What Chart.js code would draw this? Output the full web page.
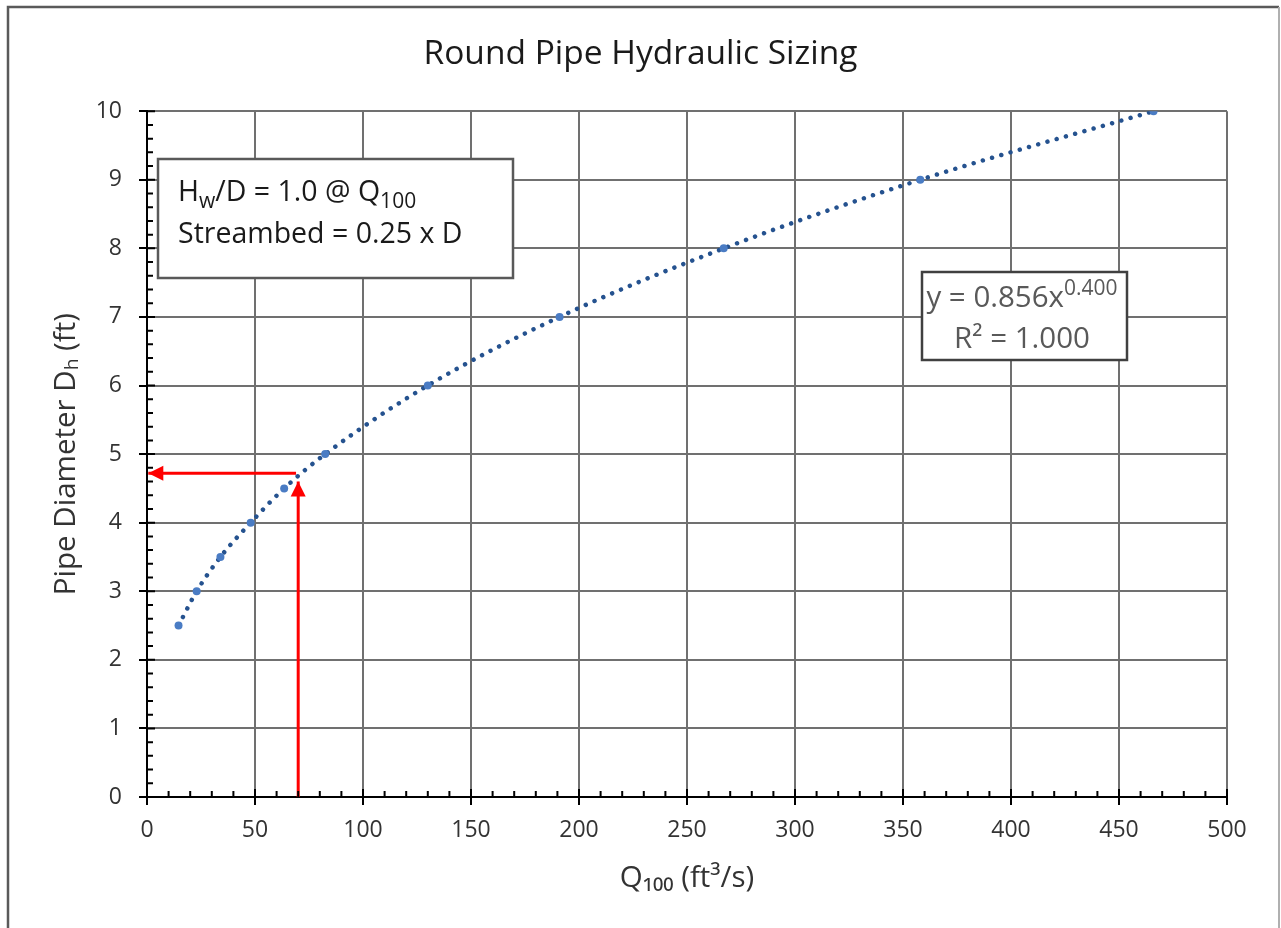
<!DOCTYPE html>
<html>
<head>
<meta charset="utf-8">
<title>Round Pipe Hydraulic Sizing</title>
<script src="https://cdn.jsdelivr.net/npm/chart.js@4.4.1/dist/chart.umd.min.js"></script>
<style>
  html, body { margin: 0; padding: 0; background: #fff; }
  #wrap { width: 1281px; height: 928px; position: relative; }
</style>
</head>
<body>
<div id="wrap"><canvas id="chart"></canvas></div>
<script>
// Q100 (ft3/s) vs pipe diameter (ft)
const qFlow = [14.6, 23, 34, 48, 63.5, 82.5, 130, 191, 267, 358, 466];
const pipeDia = [2.5, 3, 3.5, 4, 4.5, 5, 6, 7, 8, 9, 10];

// red reading arrows (Q = 70 -> D ~ 4.7)
const arrowUpQ = [70, 70];
const arrowUpD = [0, 4.6];
const arrowLeftQ = [69, 0.6];
const arrowLeftD = [4.72, 4.72];

const xTicks = [0, 50, 100, 150, 200, 250, 300, 350, 400, 450, 500];
const yTicks = [0, 1, 2, 3, 4, 5, 6, 7, 8, 9, 10];

const FONT = "'Open Sans', 'DejaVu Sans', sans-serif";

const toPts = (xs, ys) => xs.map((x, i) => ({ x: x, y: ys[i] }));

// draw text with sub / superscript pieces
function richWidth(ctx, segs, size) {
  let w = 0;
  segs.forEach(s => {
    ctx.font = (s.sub || s.sup ? Math.round(size * 0.72) : size) + 'px ' + FONT;
    w += ctx.measureText(s.t).width;
  });
  return w;
}
function drawRich(ctx, segs, x, y, size, align) {
  let w = richWidth(ctx, segs, size);
  let cx = align === 'center' ? x - w / 2 : x;
  ctx.textAlign = 'left';
  ctx.textBaseline = 'alphabetic';
  segs.forEach(s => {
    let small = s.sub || s.sup;
    ctx.font = (small ? Math.round(size * 0.72) : size) + 'px ' + FONT;
    let dy = s.sub ? size * 0.25 : (s.sup ? -size * 0.4 : 0);
    ctx.fillText(s.t, cx, y + dy);
    cx += ctx.measureText(s.t).width;
  });
}

const extras = {
  id: 'extras',
  afterDraw(chart) {
    const ctx = chart.ctx;
    const xs = chart.scales.x, ys = chart.scales.y;
    const area = chart.chartArea;
    ctx.save();

    // minor + inner major ticks
    ctx.strokeStyle = '#000';
    ctx.lineWidth = 2;
    ctx.beginPath();
    for (let v = 0; v <= 500; v += 10) {
      const px = xs.getPixelForValue(v);
      const len = v % 50 === 0 ? 8 : 6;
      ctx.moveTo(px, area.bottom);
      ctx.lineTo(px, area.bottom - len);
    }
    for (let i = 0; i <= 50; i++) {
      const py = ys.getPixelForValue(i / 5);
      const len = i % 5 === 0 ? 8 : 6;
      ctx.moveTo(area.left, py);
      ctx.lineTo(area.left + len, py);
    }
    ctx.stroke();

    // note box
    ctx.fillStyle = '#fff';
    ctx.strokeStyle = '#595959';
    ctx.lineWidth = 2.5;
    ctx.fillRect(158, 159, 355, 119);
    ctx.strokeRect(158, 159, 355, 119);
    ctx.fillStyle = '#1a1a1a';
    drawRich(ctx, [{ t: 'H' }, { t: 'w', sub: true }, { t: '/D = 1.0 @ Q' }, { t: '100', sub: true }], 178, 201, 28.5, 'left');
    drawRich(ctx, [{ t: 'Streambed = 0.25 x D' }], 178, 243, 28.5, 'left');

    // trendline label
    ctx.fillStyle = '#fff';
    ctx.strokeStyle = '#404040';
    ctx.fillRect(922, 272, 205, 88);
    ctx.strokeRect(922, 272, 205, 88);
    ctx.fillStyle = '#595959';
    drawRich(ctx, [{ t: 'y = 0.856x' }, { t: '0.400', sup: true }], 1022, 307, 29.5, 'center');
    drawRich(ctx, [{ t: 'R² = 1.000' }], 1022, 348, 29.5, 'center');

    // red arrow heads at the end of each red line
    chart.data.datasets.forEach((ds, i) => {
      if (!ds.arrow) return;
      const pts = chart.getDatasetMeta(i).data;
      const a = pts[pts.length - 2], b = pts[pts.length - 1];
      const ang = Math.atan2(b.y - a.y, b.x - a.x);
      const L = 15, W = 7.5;
      ctx.fillStyle = '#ff0000';
      ctx.beginPath();
      ctx.moveTo(b.x, b.y);
      ctx.lineTo(b.x - L * Math.cos(ang) + W * Math.sin(ang), b.y - L * Math.sin(ang) - W * Math.cos(ang));
      ctx.lineTo(b.x - L * Math.cos(ang) - W * Math.sin(ang), b.y - L * Math.sin(ang) + W * Math.cos(ang));
      ctx.closePath();
      ctx.fill();
    });

    // outer frame
    ctx.lineWidth = 2.5;
    ctx.strokeStyle = '#5a5a5a';
    ctx.beginPath();
    ctx.moveTo(8, 940); ctx.lineTo(8, 7); ctx.lineTo(1279, 7);
    ctx.stroke();
    ctx.strokeStyle = '#b0b0b0';
    ctx.lineWidth = 2;
    ctx.beginPath();
    ctx.moveTo(1279, 7); ctx.lineTo(1279, 940);
    ctx.stroke();
    ctx.restore();
  }
};

new Chart(document.getElementById('chart'), {
  type: 'scatter',
  data: {
    datasets: [
      {
        label: 'arrow up',
        data: toPts(arrowUpQ, arrowUpD),
        showLine: true,
        borderColor: '#ff0000',
        borderWidth: 3,
        pointRadius: 0,
        arrow: true,
        order: 0
      },
      {
        label: 'arrow left',
        data: toPts(arrowLeftQ, arrowLeftD),
        showLine: true,
        borderColor: '#ff0000',
        borderWidth: 3,
        pointRadius: 0,
        arrow: true,
        order: 0
      },
      {
        label: 'Pipe size',
        data: toPts(qFlow, pipeDia),
        pointRadius: 4,
        pointBackgroundColor: '#4a7cc4',
        pointBorderWidth: 0,
        order: 1
      },
      {
        label: 'Power trend',
        data: toPts(qFlow, pipeDia),
        showLine: true,
        cubicInterpolationMode: 'monotone',
        borderColor: '#25528f',
        borderWidth: 4.5,
        borderDash: [0.01, 9.6],
        borderCapStyle: 'round',
        pointRadius: 0,
        order: 2
      }
    ]
  },
  options: {
    responsive: true,
    maintainAspectRatio: false,
    animation: false,
    layout: { padding: 0 },
    plugins: {
      legend: { display: false },
      tooltip: { enabled: false },
      title: {
        display: true,
        text: 'Round Pipe Hydraulic Sizing',
        color: '#1a1a1a',
        font: { family: FONT, size: 33.5, weight: 'normal' },
        padding: { top: 34, bottom: 37 }
      }
    },
    scales: {
      x: {
        type: 'linear',
        min: 0,
        max: 500,
        afterBuildTicks: s => { s.ticks = xTicks.map(v => ({ value: v })); },
        afterFit: s => { s.height = 131; },
        ticks: {
          color: '#333',
          font: { family: FONT, size: 23 },
          padding: 12,
          maxRotation: 0
        },
        grid: { color: '#707070', lineWidth: 2, tickColor: '#000', tickLength: 8, tickWidth: 2 },
        border: { color: '#000', width: 2 },
        title: {
          display: true,
          text: 'Q₁₀₀ (ft³/s)',
          color: '#333',
          font: { family: FONT, size: 29.5 },
          padding: { top: 0, bottom: 32 }
        }
      },
      y: {
        min: 0,
        max: 10,
        afterBuildTicks: s => { s.ticks = yTicks.map(v => ({ value: v })); },
        afterFit: s => { s.width = 147; },
        ticks: {
          color: '#333',
          font: { family: FONT, size: 23 },
          padding: 17
        },
        grid: { color: '#707070', lineWidth: 2, tickColor: '#000', tickLength: 8, tickWidth: 2 },
        border: { color: '#000', width: 2 },
        title: {
          display: true,
          text: 'Pipe Diameter Dₕ (ft)',
          color: '#333',
          font: { family: FONT, size: 29.5 },
          padding: { top: 49, bottom: 0 }
        }
      },
      // empty right-hand strip so the plot ends at Q = 500 like the original
      yRight: {
        position: 'right',
        display: true,
        grid: { display: false },
        border: { display: false },
        ticks: { display: false },
        afterFit: s => { s.width = 54; }
      }
    }
  },
  plugins: [extras]
});
</script>
</body>
</html>
